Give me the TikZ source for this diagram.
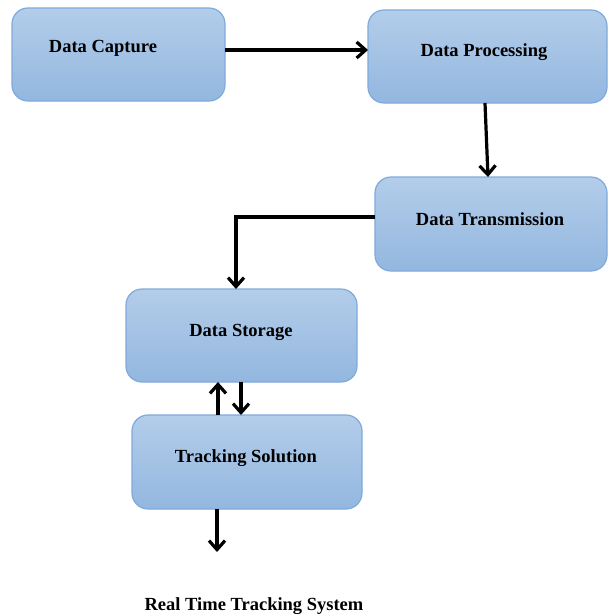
\documentclass[tikz,border=0pt]{standalone}
\usepackage{fontspec}
\setmainfont{Liberation Serif}
\usetikzlibrary{arrows.meta}
\definecolor{boxtop}{HTML}{B3CDEA}
\definecolor{boxbot}{HTML}{93B7DF}
\definecolor{boxline}{HTML}{7FAADB}
\tikzset{
  blk/.style={draw=boxline, line width=1.2pt, rounded corners=16pt, top color=boxtop, bottom color=boxbot},
  lbl/.style={font=\fontsize{18.5}{21}\selectfont\bfseries, text=black, inner sep=0pt},
  conn/.style={line width=3.2pt, -{Straight Barb[length=9pt,width=16pt,line width=3.2pt]}}
}
\begin{document}
\begin{tikzpicture}[x=1pt,y=-1pt]
\useasboundingbox (0,0) rectangle (612,616);
% boxes
\path[blk] (12,8) rectangle (225,101);
\path[blk] (368,10) rectangle (607,103);
\path[blk] (375,177) rectangle (607,271);
\path[blk] (126,289) rectangle (357,382);
\path[blk] (132,415) rectangle (362,509);
% named anchor coordinates
\coordinate (capE) at (225,50);
\coordinate (procW) at (368,50);
\coordinate (procS) at (485,103);
\coordinate (tranN) at (488,177);
\coordinate (tranW) at (375,217);
\coordinate (storN) at (236,289);
\coordinate (storS1) at (218,382);
\coordinate (storS2) at (241,382);
\coordinate (trkN1) at (218,415);
\coordinate (trkN2) at (241,415);
\coordinate (trkS) at (217,509);
\coordinate (outE) at (217,552);
% labels
\node[lbl] (t1) at (103,48) {Data Capture};
\node[lbl] (t2) at (484,52) {Data Processing};
\node[lbl] (t3) at (490,219) {Data Transmission};
\node[lbl] (t4) at (241,332) {Data Storage};
\node[lbl] (t5) at (246,458) {Tracking Solution};
\node[lbl] (t6) at (254,606) {Real Time Tracking System};
% connectors
\draw[conn] (capE) -- (procW);
\draw[conn] (procS) -- (tranN);
\draw[conn] (tranW) -| (storN);
\draw[conn] (trkN1) -- (storS1);
\draw[conn] (storS2) -- (trkN2);
\draw[conn] (trkS) -- (outE);
\end{tikzpicture}
\end{document}
